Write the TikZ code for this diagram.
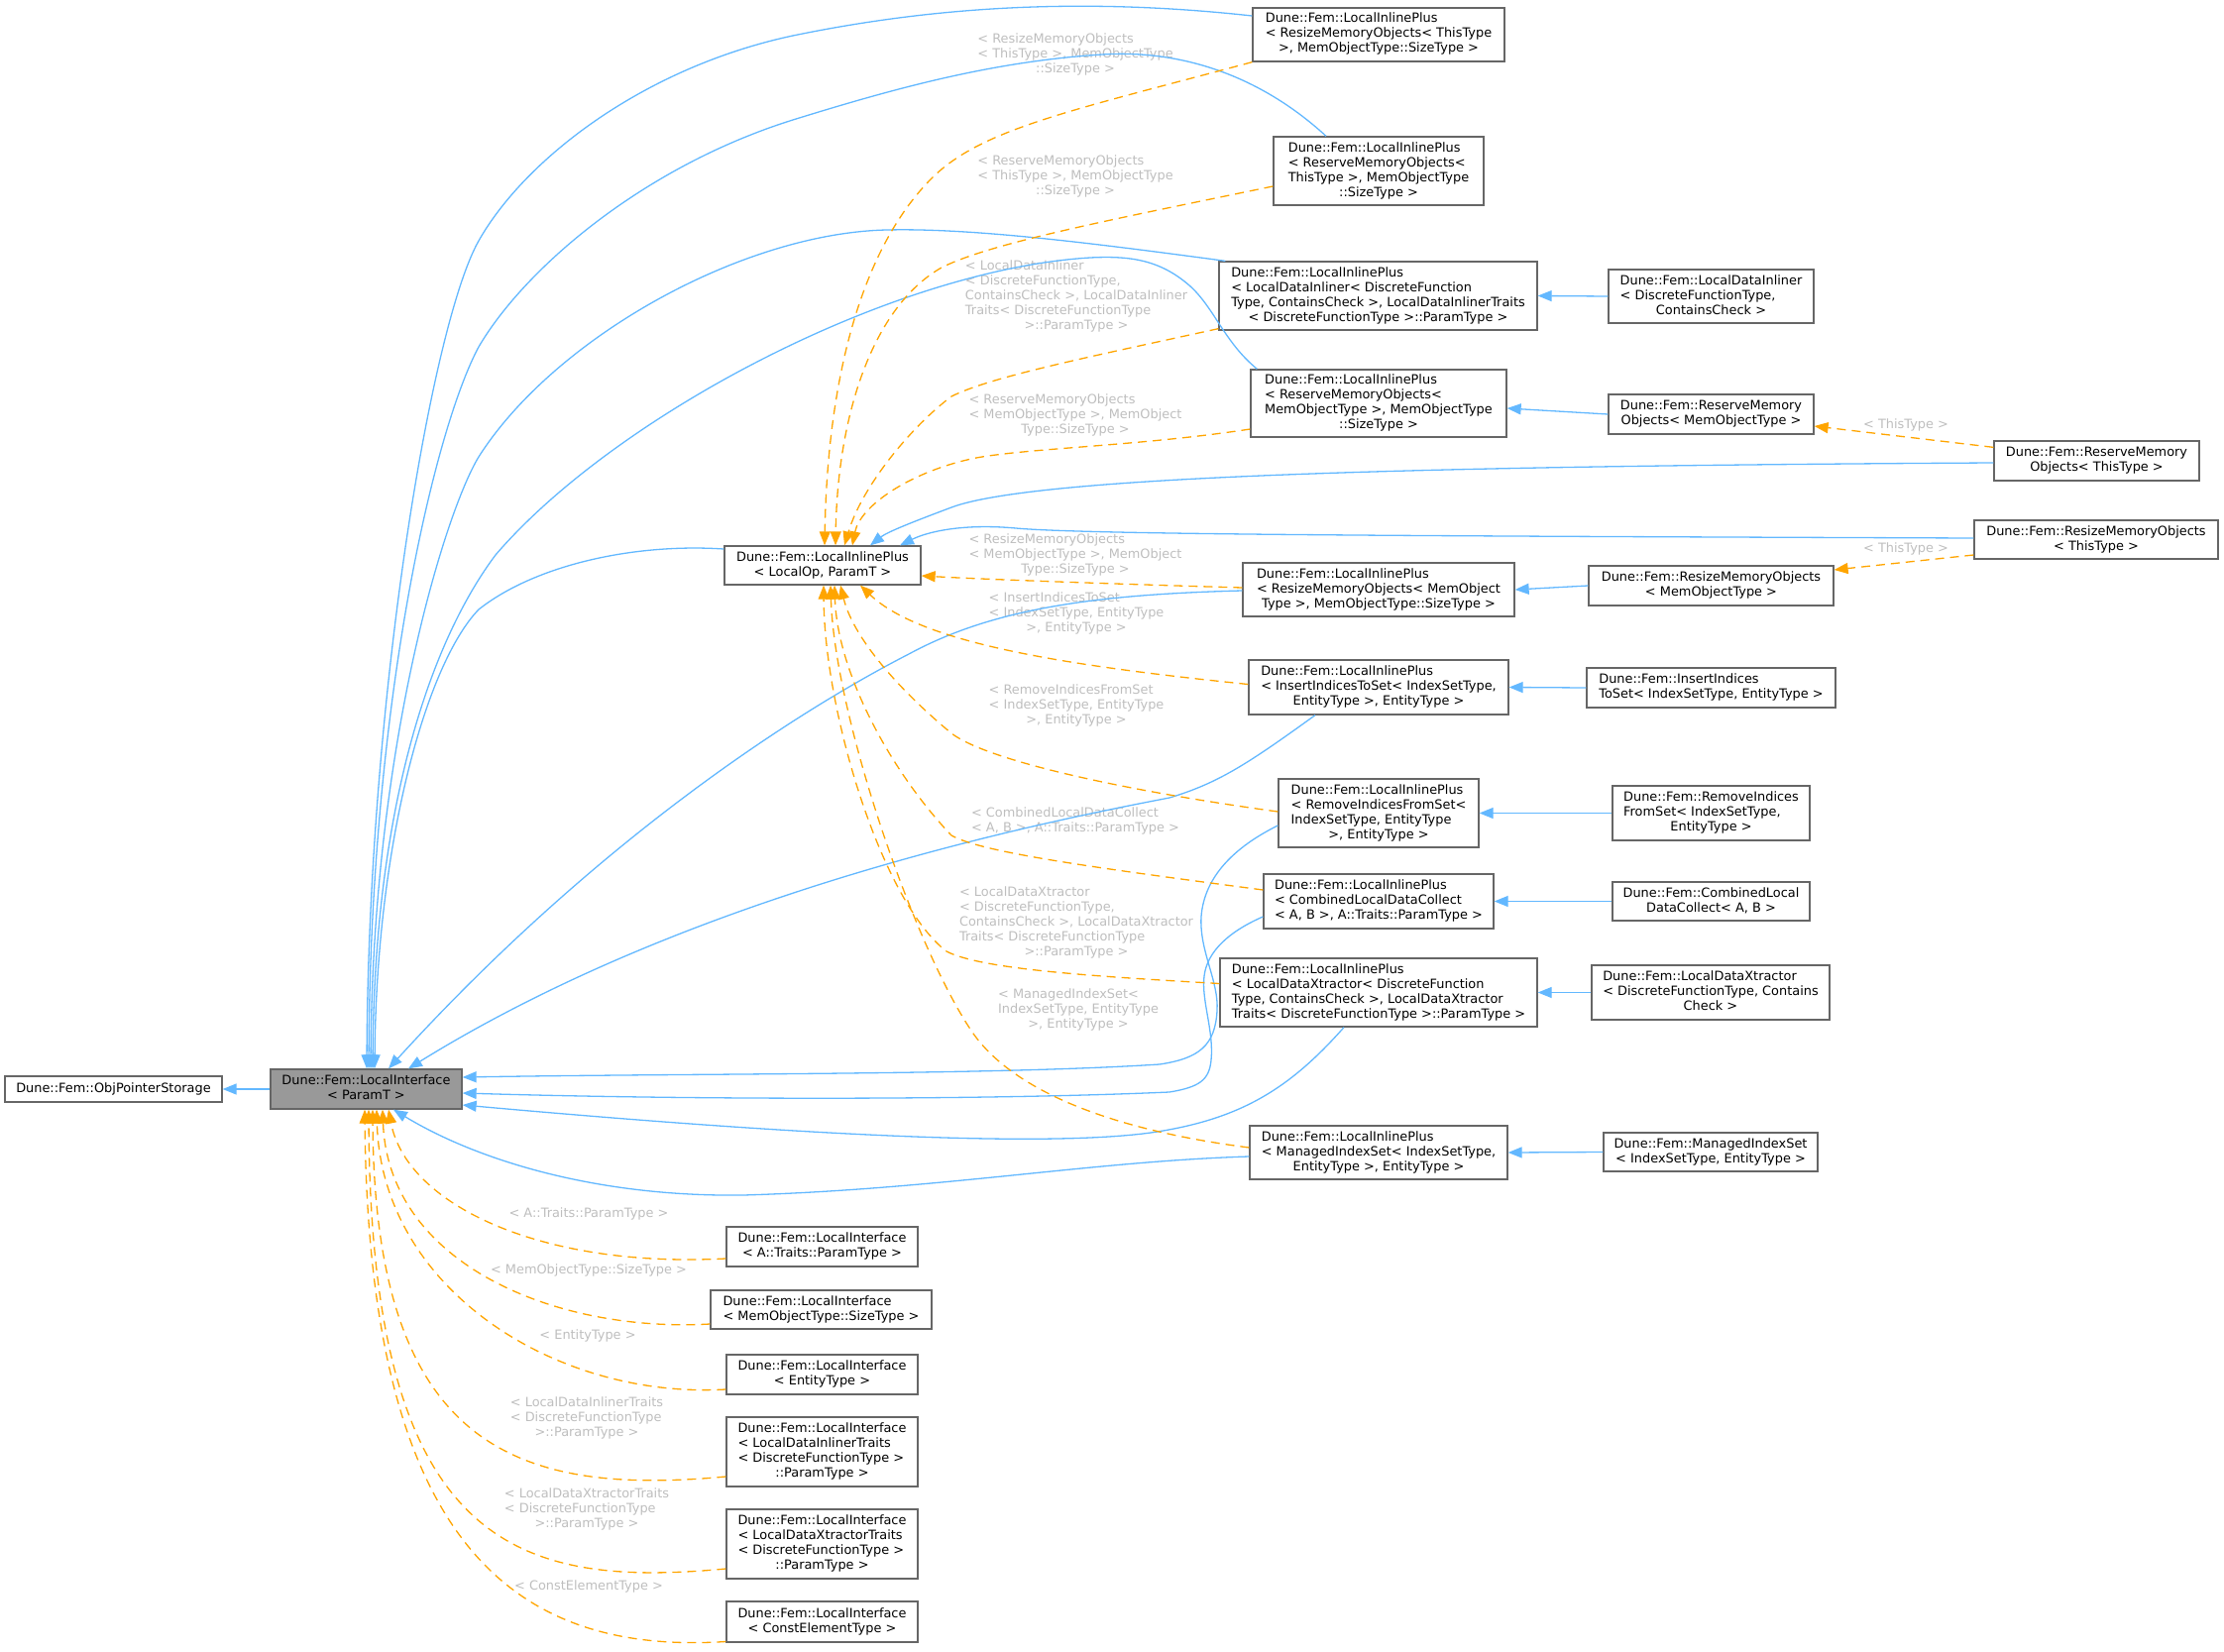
\documentclass[tikz,border=0pt]{standalone}
\usepackage{fontspec}
\setmainfont{DejaVu Sans}
\usetikzlibrary{arrows.meta,calc}
\definecolor{pubblue}{HTML}{63B8FF}
\definecolor{tplor}{HTML}{FFA500}
\definecolor{bord}{HTML}{666666}
\definecolor{basefill}{HTML}{999999}
\definecolor{lblgray}{HTML}{BEBEBE}
\newcommand{\dxl}[2]{\begin{tabular}{@{}l@{}}#1\\\multicolumn{1}{@{}c@{}}{#2}\end{tabular}}
\newcommand{\dxfont}{\fontsize{12.9}{15}\selectfont}
\begin{document}
\begin{tikzpicture}[x=1pt,y=-1pt,
  box/.style={draw=bord,line width=1.3pt,fill=white,inner sep=0pt,font=\dxfont},
  sz/.style 2 args={minimum width=#1pt,minimum height=#2pt},
  pub/.style={draw=pubblue,line width=1.3pt,-{Triangle[length=14pt,width=11pt]}},
  tpl/.style={draw=tplor,line width=1.3pt,dash pattern=on 9pt off 6pt,-{Triangle[length=14pt,width=11pt]}},
  lbl/.style={font=\dxfont,text=lblgray,inner sep=0pt}]
\useasboundingbox (0,0) rectangle (2244,1667);

% edge labels
\node[lbl] (la) at (1085,56) {\dxl{< ResizeMemoryObjects\\< ThisType >, MemObjectType}{::SizeType >}};
\node[lbl] (lb) at (1085,179) {\dxl{< ReserveMemoryObjects\\< ThisType >, MemObjectType}{::SizeType >}};
\node[lbl] (lc) at (1086,299) {\dxl{< LocalDataInliner\\< DiscreteFunctionType,\\ ContainsCheck >, LocalDataInliner\\Traits< DiscreteFunctionType}{>::ParamType >}};
\node[lbl] (ld) at (1085,419) {\dxl{< ReserveMemoryObjects\\< MemObjectType >, MemObject}{Type::SizeType >}};
\node[lbl] (le) at (1085,560) {\dxl{< ResizeMemoryObjects\\< MemObjectType >, MemObject}{Type::SizeType >}};
\node[lbl] (lf) at (1086,619) {\dxl{< InsertIndicesToSet\\< IndexSetType, EntityType}{>, EntityType >}};
\node[lbl] (lg) at (1086,712) {\dxl{< RemoveIndicesFromSet\\< IndexSetType, EntityType}{>, EntityType >}};
\node[lbl] (lh) at (1085,829) {\dxl{< CombinedLocalDataCollect}{< A, B >, A::Traits::ParamType >}};
\node[lbl] (li2) at (1086,931) {\dxl{< LocalDataXtractor\\< DiscreteFunctionType,\\ ContainsCheck >, LocalDataXtractor\\Traits< DiscreteFunctionType}{>::ParamType >}};
\node[lbl] (lj) at (1088,1019) {\dxl{< ManagedIndexSet<\\IndexSetType, EntityType}{>, EntityType >}};
\node[lbl] (lm) at (1923,429) {< ThisType >};
\node[lbl] (ln) at (1923,554) {< ThisType >};
\node[lbl] (lu) at (594,1225) {< A::Traits::ParamType >};
\node[lbl] (lv) at (594,1282) {< MemObjectType::SizeType >};
\node[lbl] (lw) at (593,1348) {< EntityType >};
\node[lbl] (lx) at (592,1431) {\dxl{< LocalDataInlinerTraits\\< DiscreteFunctionType}{>::ParamType >}};
\node[lbl] (ly) at (592,1523) {\dxl{< LocalDataXtractorTraits\\< DiscreteFunctionType}{>::ParamType >}};
\node[lbl] (lz) at (594,1601) {< ConstElementType >};

% nodes
\node[box,sz={219}{26}] (ops) at (114.5,1099) {Dune::Fem::ObjPointerStorage};
\node[box,sz={193}{40},fill=basefill] (li) at (369.5,1099) {\dxl{Dune::Fem::LocalInterface}{< ParamT >}};
\node[box,sz={198}{39}] (lop) at (830,570.5) {\dxl{Dune::Fem::LocalInlinePlus}{< LocalOp, ParamT >}};

\node[box,sz={254}{54}] (a) at (1391,35) {\dxl{Dune::Fem::LocalInlinePlus\\< ResizeMemoryObjects< ThisType}{>, MemObjectType::SizeType >}};
\node[box,sz={212}{69}] (b) at (1391,172.5) {\dxl{Dune::Fem::LocalInlinePlus\\< ReserveMemoryObjects<\\ThisType >, MemObjectType}{::SizeType >}};
\node[box,sz={321}{69}] (c) at (1390.5,298.5) {\dxl{Dune::Fem::LocalInlinePlus\\< LocalDataInliner< DiscreteFunction\\Type, ContainsCheck >, LocalDataInlinerTraits}{< DiscreteFunctionType >::ParamType >}};
\node[box,sz={258}{68}] (d) at (1391,407) {\dxl{Dune::Fem::LocalInlinePlus\\< ReserveMemoryObjects<\\MemObjectType >, MemObjectType}{::SizeType >}};
\node[box,sz={274}{54}] (e) at (1391,595) {\dxl{Dune::Fem::LocalInlinePlus\\< ResizeMemoryObjects< MemObject}{Type >, MemObjectType::SizeType >}};
\node[box,sz={262}{55}] (f) at (1391,693.5) {\dxl{Dune::Fem::LocalInlinePlus\\< InsertIndicesToSet< IndexSetType,}{EntityType >, EntityType >}};
\node[box,sz={202}{69}] (g) at (1391,820.5) {\dxl{Dune::Fem::LocalInlinePlus\\< RemoveIndicesFromSet<\\IndexSetType, EntityType}{>, EntityType >}};
\node[box,sz={232}{55}] (h) at (1391,909.5) {\dxl{Dune::Fem::LocalInlinePlus\\< CombinedLocalDataCollect}{< A, B >, A::Traits::ParamType >}};
\node[box,sz={320}{69}] (i) at (1391,1001.5) {\dxl{Dune::Fem::LocalInlinePlus\\< LocalDataXtractor< DiscreteFunction\\Type, ContainsCheck >, LocalDataXtractor}{Traits< DiscreteFunctionType >::ParamType >}};
\node[box,sz={260}{54}] (j) at (1391,1163) {\dxl{Dune::Fem::LocalInlinePlus\\< ManagedIndexSet< IndexSetType,}{EntityType >, EntityType >}};

\node[box,sz={207}{54}] (k) at (1726.5,299) {\dxl{Dune::Fem::LocalDataInliner\\< DiscreteFunctionType,}{ContainsCheck >}};
\node[box,sz={207}{40}] (l) at (1726.5,418) {\dxl{Dune::Fem::ReserveMemory}{Objects< MemObjectType >}};
\node[box,sz={207}{40}] (m) at (2115.5,465) {\dxl{Dune::Fem::ReserveMemory}{Objects< ThisType >}};
\node[box,sz={246}{39}] (n) at (2115,544.5) {\dxl{Dune::Fem::ResizeMemoryObjects}{< ThisType >}};
\node[box,sz={247}{40}] (o) at (1726.5,591) {\dxl{Dune::Fem::ResizeMemoryObjects}{< MemObjectType >}};
\node[box,sz={251}{40}] (p) at (1726.5,694) {\dxl{Dune::Fem::InsertIndices}{ToSet< IndexSetType, EntityType >}};
\node[box,sz={199}{55}] (q) at (1726.5,820.5) {\dxl{Dune::Fem::RemoveIndices\\FromSet< IndexSetType,}{EntityType >}};
\node[box,sz={199}{39}] (r) at (1726.5,909.5) {\dxl{Dune::Fem::CombinedLocal}{DataCollect< A, B >}};
\node[box,sz={240}{55}] (s) at (1726,1001.5) {\dxl{Dune::Fem::LocalDataXtractor\\< DiscreteFunctionType, Contains}{Check >}};
\node[box,sz={216}{39}] (t) at (1726,1162.5) {\dxl{Dune::Fem::ManagedIndexSet}{< IndexSetType, EntityType >}};

\node[box,sz={193}{40}] (u) at (829.5,1258) {\dxl{Dune::Fem::LocalInterface}{< A::Traits::ParamType >}};
\node[box,sz={223}{39}] (v) at (828.5,1321.5) {\dxl{Dune::Fem::LocalInterface}{< MemObjectType::SizeType >}};
\node[box,sz={193}{40}] (w) at (829.5,1387) {\dxl{Dune::Fem::LocalInterface}{< EntityType >}};
\node[box,sz={193}{70}] (x) at (829.5,1465) {\dxl{Dune::Fem::LocalInterface\\< LocalDataInlinerTraits\\< DiscreteFunctionType >}{::ParamType >}};
\node[box,sz={193}{70}] (y) at (829.5,1558) {\dxl{Dune::Fem::LocalInterface\\< LocalDataXtractorTraits\\< DiscreteFunctionType >}{::ParamType >}};
\node[box,sz={193}{41}] (z) at (829.5,1636.5) {\dxl{Dune::Fem::LocalInterface}{< ConstElementType >}};

% public inheritance (blue)
\draw[pub] (li.west) -- (ops.east);
\draw[pub] ($(a.west)+(0,-19)$) .. controls (1100,-2) and (950,5) .. (800,36) .. controls (650,68) and (530,160) .. (483,243) .. controls (436,326) and (372,700) .. ($(li.north)+(0.5,0)$);
\draw[pub] ($(b.north)+(-53,0)$) .. controls (1270,75) and (1190,50) .. (1112,55) .. controls (1000,62) and (900,90) .. (800,121) .. controls (650,168) and (530,270) .. (483,350) .. controls (440,430) and (374,700) .. ($(li.north)+(2.5,0)$);
\draw[pub] ($(c.north west)+(7,0)$) .. controls (1100,245) and (980,230) .. (895,232) .. controls (750,235) and (560,340) .. (483,461) .. controls (450,515) and (376,750) .. ($(li.north)+(4.5,0)$);
\draw[pub] ($(d.north west)+(7,0)$) .. controls (1235,345) and (1225,310) .. (1200,288) .. controls (1170,262) and (1140,258) .. (1100,260) .. controls (900,272) and (620,420) .. (500,560) .. controls (440,640) and (378,800) .. ($(li.north)+(6.5,0)$);
\draw[pub] ($(lop.west)+(0,-16.5)$) .. controls (640,548) and (540,570) .. (483,615) .. controls (430,670) and (380,850) .. ($(li.north)+(8.5,0)$);
\draw[pub] ($(e.west)+(0,1)$) .. controls (1100,600) and (1000,615) .. (917,660) .. controls (800,720) and (600,850) .. ($(li.north)+(22.5,0)$);
\draw[pub] ($(f.south)+(-64,0)$) .. controls (1260,770) and (1230,790) .. (1180,805) .. controls (1050,830) and (700,900) .. ($(li.north)+(42.5,0)$);
\draw[pub] ($(g.west)+(0,12.5)$) .. controls (1245,855) and (1215,885) .. (1212,925) .. controls (1210,960) and (1230,990) .. (1228,1020) .. controls (1226,1055) and (1210,1068) .. (1170,1074) .. controls (1000,1085) and (700,1083) .. ($(li.east)+(0,-12)$);
\draw[pub] ($(h.west)+(0,15.5)$) .. controls (1240,940) and (1218,960) .. (1215,985) .. controls (1212,1010) and (1225,1040) .. (1222,1070) .. controls (1220,1090) and (1210,1097) .. (1180,1102) .. controls (1000,1110) and (700,1110) .. ($(li.east)+(0,4)$);
\draw[pub] ($(i.south)+(-35,0)$) .. controls (1300,1100) and (1250,1130) .. (1161,1143) .. controls (1050,1158) and (800,1145) .. ($(li.east)+(0,16)$);
\draw[pub] ($(j.west)+(0,4)$) .. controls (1100,1172) and (950,1200) .. (750,1206) .. controls (600,1208) and (480,1170) .. ($(li.south)+(27.5,0)$);
\draw[pub] ($(m.west)+(0,2)$) .. controls (1500,470) and (1050,478) .. (960,512) .. controls (920,527) and (895,537) .. ($(lop.north)+(48,0)$);
\draw[pub] ($(n.west)+(0,-1.5)$) .. controls (1500,541) and (1100,540) .. (1025,533) .. controls (970,528) and (935,537) .. ($(lop.north)+(78,0)$);
\draw[pub] (k.west) -- (c.east);
\draw[pub] (l.west) -- ($(d.east)+(0,5)$);
\draw[pub] (o.west) -- (e.east);
\draw[pub] (p.west) -- (f.east);
\draw[pub] (q.west) -- (g.east);
\draw[pub] (r.west) -- (h.east);
\draw[pub] (s.west) -- (i.east);
\draw[pub] (t.west) -- (j.east);

% template instances (orange dashed)
\draw[tpl] ($(m.north west)+(0,7)$) -- ($(l.east)+(0,12)$);
\draw[tpl] ($(n.west)+(0,15.5)$) -- ($(o.east)+(0,-16)$);
\draw[tpl] (a.south west) .. controls (1080,112) and (990,130) .. (940,180) .. controls (870,250) and (835,380) .. ($(lop.north)+(2,0)$);
\draw[tpl] ($(b.west)+(0,15.5)$) .. controls (1120,222) and (1000,245) .. (950,270) .. controls (880,310) and (845,420) .. ($(lop.north)+(13,0)$);
\draw[tpl] ($(c.south west)+(0,-2)$) .. controls (1100,360) and (1000,380) .. (960,400) .. controls (920,430) and (870,490) .. ($(lop.north)+(22,0)$);
\draw[tpl] ($(d.west)+(0,26)$) .. controls (1150,450) and (1040,452) .. (985,462) .. controls (920,475) and (868,510) .. ($(lop.north)+(30,0)$);
\draw[tpl] ($(e.west)+(0,-2)$) .. controls (1150,590) and (1000,585) .. ($(lop.east)+(0,10.5)$);
\draw[tpl] ($(f.west)+(0,-3)$) .. controls (1080,672) and (930,650) .. ($(lop.south)+(38,0)$);
\draw[tpl] ($(g.west)+(0,-1.5)$) .. controls (1150,800) and (1000,770) .. (960,740) .. controls (900,690) and (860,640) .. ($(lop.south)+(18,0)$);
\draw[tpl] ($(h.west)+(0,-11.5)$) .. controls (1100,875) and (990,860) .. (960,843) .. controls (900,780) and (845,680) .. ($(lop.south)+(12,0)$);
\draw[tpl] ($(i.west)+(0,-9)$) .. controls (1100,985) and (990,978) .. (955,960) .. controls (890,910) and (832,720) .. ($(lop.south)+(1,0)$);
\draw[tpl] ($(j.west)+(0,-5)$) .. controls (1120,1140) and (1020,1100) .. (980,1040) .. controls (920,950) and (842,720) .. ($(lop.south)+(8,0)$);
\draw[tpl] ($(u.west)+(0,12)$) .. controls (545,1280) and (410,1215) .. ($(li.south)+(22.5,0)$);
\draw[tpl] ($(v.west)+(0,14.5)$) .. controls (560,1345) and (392,1275) .. ($(li.south)+(16.5,0)$);
\draw[tpl] ($(w.west)+(0,15)$) .. controls (560,1412) and (385,1300) .. ($(li.south)+(10.5,0)$);
\draw[tpl] ($(x.west)+(0,25)$) .. controls (520,1510) and (378,1460) .. ($(li.south)+(6.5,0)$);
\draw[tpl] ($(y.west)+(0,25)$) .. controls (520,1603) and (374,1560) .. ($(li.south)+(2.5,0)$);
\draw[tpl] ($(z.west)+(0,20)$) .. controls (520,1670) and (372,1560) .. ($(li.south)+(-1.5,0)$);
\end{tikzpicture}
\end{document}
